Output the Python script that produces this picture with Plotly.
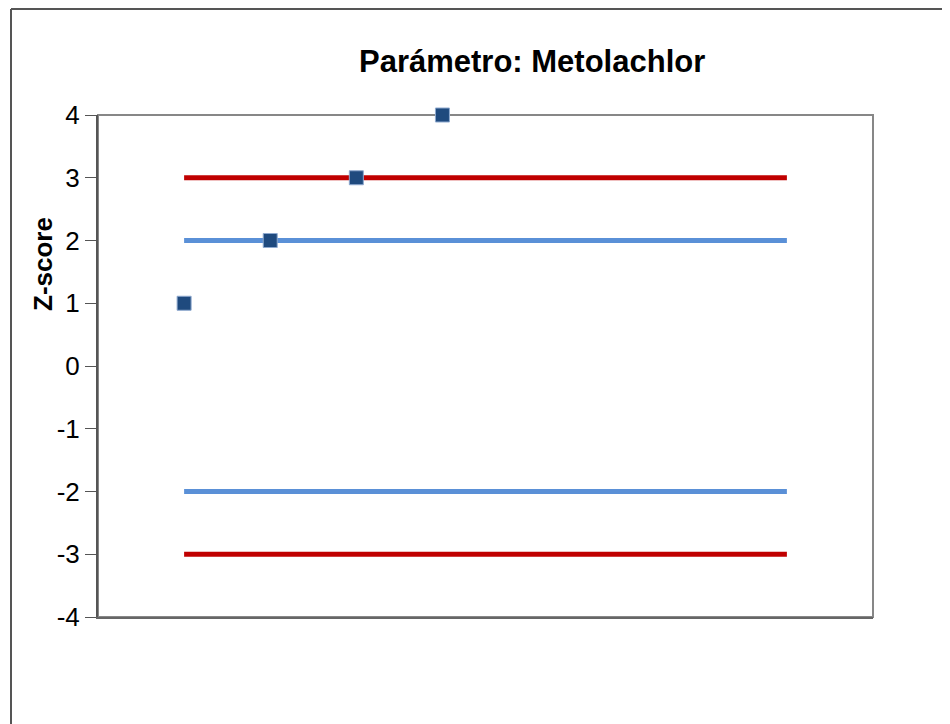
import plotly.graph_objects as go

# Lab positions and z-scores
labs = [1, 2, 3, 4]
z_scores = [1, 2, 3, 4]

# limit lines drawn across the categories
limit_x = [1, 2, 3, 4, 5, 6, 7, 8]
upper_action = [3] * 8
upper_warning = [2] * 8
lower_warning = [-2] * 8
lower_action = [-3] * 8

y_ticks = [-4, -3, -2, -1, 0, 1, 2, 3, 4]
y_labels = ["-4", "-3", "-2", "-1", "0", "1", "2", "3", "4"]

RED = "#C00000"
BLUE = "#5A90D7"
MARK = "#1F4A7E"
FONT = "Arial, Liberation Sans, sans-serif"

fig = go.Figure()

for vals, col in [
    (upper_action, RED),
    (upper_warning, BLUE),
    (lower_warning, BLUE),
    (lower_action, RED),
]:
    fig.add_trace(go.Scatter(x=limit_x, y=vals, mode="lines",
                             line=dict(color=col, width=5), hoverinfo="skip"))

fig.add_trace(go.Scatter(
    x=labs, y=z_scores, mode="markers", cliponaxis=False,
    marker=dict(symbol="square", size=14, color=MARK,
                line=dict(color="#8EA9CF", width=1)),
))

# page has an 8px body margin, so the figure starts at (8, 8)
OFF = 8
W, H = 950 - OFF, 724 - OFF
L, T = 98 - OFF, 115 - OFF
pw, ph = 775, 502
R, B = W - L - pw, H - T - ph


def px(x):
    return (x - OFF - L) / pw


def py(y):
    return (H - B - (y - OFF)) / ph


fig.update_layout(
    width=W, height=H,
    margin=dict(l=L, r=R, t=T, b=B),
    paper_bgcolor="white", plot_bgcolor="white",
    showlegend=False,
    font=dict(family=FONT, color="black"),
    xaxis=dict(range=[0, 9], showticklabels=False, ticks="", showgrid=False,
               zeroline=False, showline=True, linecolor="#666666", linewidth=2),
    yaxis=dict(range=[-4, 4], tickvals=y_ticks, ticktext=y_labels,
               ticks="outside", ticklen=11, tickcolor="#555555", tickwidth=1,
               showgrid=False, zeroline=False,
               showline=True, linecolor="#555555", linewidth=2,
               tickfont=dict(size=26, family=FONT, color="black")),
    shapes=[
        # plot area border
        dict(type="rect", xref="paper", yref="paper", x0=0, y0=0, x1=1, y1=1,
             line=dict(color="#878787", width=2), layer="below"),
        # chart area border (top and left edges visible)
        dict(type="line", xref="paper", yref="paper",
             x0=px(11), y0=py(9), x1=px(960), y1=py(9),
             line=dict(color="#555555", width=2)),
        dict(type="line", xref="paper", yref="paper",
             x0=px(11), y0=py(9), x1=px(11), y1=py(740),
             line=dict(color="#555555", width=2)),
    ],
    annotations=[
        dict(text="<b>Parámetro: Metolachlor</b>", xref="paper", yref="paper",
             x=px(532), y=py(61), showarrow=False,
             xanchor="center", yanchor="middle",
             font=dict(size=31, family=FONT, color="black")),
        dict(text="<b>Z-score</b>", xref="paper", yref="paper",
             x=px(43), y=py(264), showarrow=False,
             textangle=-90, xanchor="center", yanchor="middle",
             font=dict(size=26, family=FONT, color="black")),
    ],
)

fig.write_html("out.html")
